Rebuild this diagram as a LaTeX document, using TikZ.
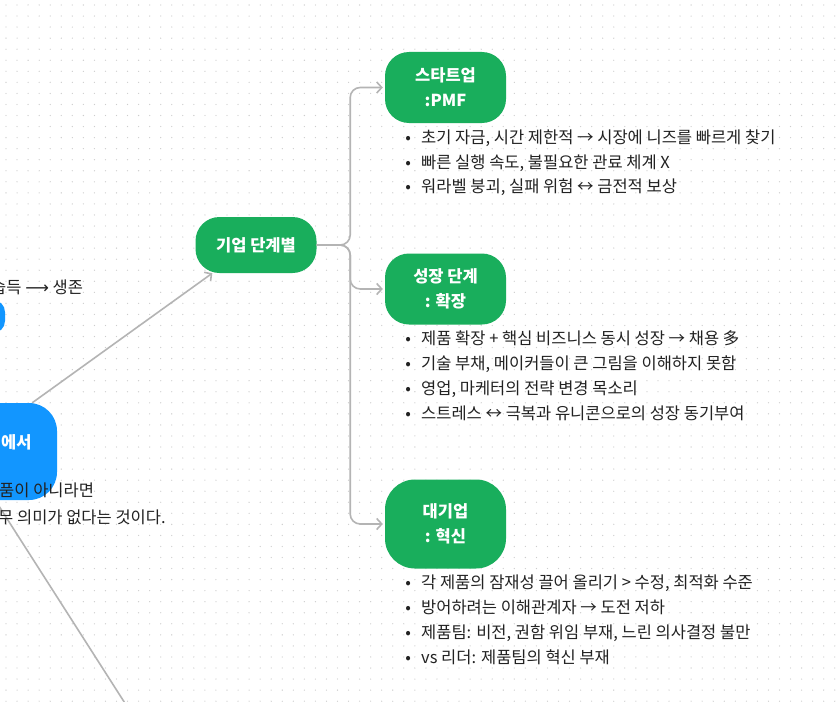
\documentclass[tikz,border=0pt]{standalone}
\usepackage{fontspec}
\setmainfont{Noto Sans CJK KR}
\newfontfamily\dvfont{DejaVu Sans}
\usetikzlibrary{arrows.meta}
\definecolor{grn}{HTML}{19AE5C}
\definecolor{blu}{HTML}{1296FF}
\definecolor{conn}{HTML}{B4B4B4}
\definecolor{txt}{HTML}{222222}
\definecolor{dotc}{HTML}{CDCDCD}
\begin{document}
\begin{tikzpicture}[x=1pt,y=-1pt,
  gnode/.style={fill=grn, draw=none, rounded corners=24pt, text=white,
    font=\fontsize{16.5}{25}\selectfont\bfseries, align=center, inner sep=0pt,
    minimum width=121pt},
  bnode/.style={fill=blu, draw=none, rounded corners=28pt, inner sep=0pt},
  wlabel/.style={text=white, font=\fontsize{16.5}{25}\selectfont\bfseries, inner sep=0pt, anchor=west},
  line/.style={draw=conn, line width=1.6pt},
  arr/.style={line, -{Straight Barb[length=5pt,width=11pt]}},
  body/.style={text=txt, font=\fontsize{16.5}{25}\selectfont, anchor=base west, inner sep=0pt},
]
\useasboundingbox (0,0) rectangle (840,701);
\clip (0,0) rectangle (840,701);
\fill[white] (0,0) rectangle (840,701);
% dot grid
\foreach \i in {0,...,76}{
  \foreach \j in {0,...,64}{
    \fill[dotc] (6+11.05*\i, 5+11.05*\j) circle (0.65pt);
  }
}
% nodes
\node[gnode, minimum height=56pt] (hub) at (256,245) {기업 단계별};
\node[gnode, minimum height=71pt] (startup) at (445.5,87.5) {스타트업\\:PMF};
\node[gnode, minimum height=71pt] (growth) at (445.5,289) {성장 단계\\: 확장};
\node[gnode, minimum height=89pt, rounded corners=30pt] (bigco) at (445.5,524) {대기업\\: 혁신};

\node[bnode, minimum width=180pt, minimum height=97pt] (blue1) at (-33,451.5) {};
\node[wlabel] (blue1lab) at (1,442) {에서};
\node[bnode, minimum width=100pt, minimum height=33pt, rounded corners=12pt] (blue2) at (-45,316.5) {};

% connectors
\draw[arr, rounded corners=10pt, shorten >=2pt] (hub.east) -- ++(33.5,0) |- (startup.west);
\draw[arr, rounded corners=10pt, shorten >=2pt] (hub.east) -- ++(33.5,0) |- (growth.west);
\draw[arr, rounded corners=10pt, shorten >=2pt] (hub.east) -- ++(33.5,0) |- (bigco.west);
\draw[arr] ([xshift=-25pt]blue1.north east) -- ([xshift=17pt]hub.south west);
\coordinate (offdown) at (137,722);
\draw[line] ([xshift=-62pt]blue1.south east) -- (offdown);

% left texts
\node[body] (lt1) at (-9,293) {습득 {\dvfont ⟶} 생존};
\node[body] (lt2) at (-1,496.5) {품이 아니라면};
\node[body] (lt3) at (-2,523) {무 의미가 없다는 것이다.};

% bullet texts
\newcommand{\bl}{\makebox[20pt][c]{•}\hspace{3pt}}
\node[body] (s1) at (398,143.5) {\bl 초기 자금, 시간 제한적 → 시장에 니즈를 빠르게 찾기};
\node[body] (s2) at (398,168) {\bl 빠른 실행 속도, 불필요한 관료 체계 X};
\node[body] (s3) at (398,192) {\bl 워라벨 붕괴, 실패 위험 ↔ 금전적 보상};

\node[body] (g1) at (398,344.5) {\bl 제품 확장 + 핵심 비즈니스 동시 성장 → 채용 多};
\node[body] (g2) at (398,369.5) {\bl 기술 부채, 메이커들이 큰 그림을 이해하지 못함};
\node[body] (g3) at (398,394.5) {\bl 영업, 마케터의 전략 변경 목소리};
\node[body] (g4) at (398,419.5) {\bl 스트레스 ↔ 극복과 유니콘으로의 성장 동기부여};

\node[body] (b1) at (398,588.5) {\bl 각 제품의 잠재성 끌어 올리기 > 수정, 최적화 수준};
\node[body] (b2) at (398,613.5) {\bl 방어하려는 이해관계자 → 도전 저하};
\node[body] (b3) at (398,638.5) {\bl 제품팀: 비전, 권함 위임 부재, 느린 의사결정 불만};
\node[body] (b4) at (398,663.5) {\bl vs 리더: 제품팀의 혁신 부재};
\end{tikzpicture}
\end{document}
